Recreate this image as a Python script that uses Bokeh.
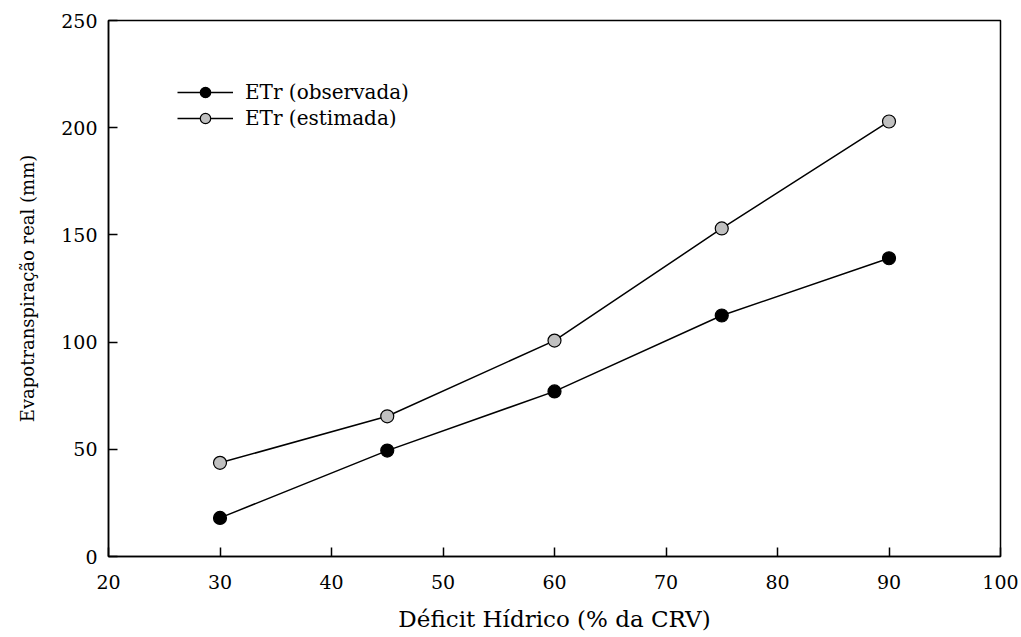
from bokeh.plotting import figure
from bokeh.models import Range1d, Legend, LegendItem, FixedTicker
from bokeh.embed import file_html
from bokeh.resources import INLINE

deficit = [30, 45, 60, 75, 90]
etr_observada = [18.0, 49.4, 77.0, 112.4, 139.1]
etr_estimada = [43.7, 65.4, 100.7, 153.0, 202.9]
x_ticks = [20, 30, 40, 50, 60, 70, 80, 90, 100]
y_ticks = [0, 50, 100, 150, 200, 250]

FONT = "DejaVu Serif"

p = figure(width=1021, height=637, output_backend="svg", toolbar_location=None,
           x_range=Range1d(20, 100), y_range=Range1d(0, 250),
           min_border_left=108, min_border_right=21, min_border_top=20, min_border_bottom=81)
p.border_fill_color = "white"
p.background_fill_color = "white"
p.grid.visible = False
p.outline_line_color = "black"
p.outline_line_width = 1.5

for ax in (p.xaxis, p.yaxis):
    ax.axis_line_width = 1.5
    ax.axis_line_color = "black"
    ax.major_tick_line_width = 1.5
    ax.major_tick_line_color = "black"
    ax.major_tick_in = 9
    ax.major_tick_out = 0
    ax.minor_tick_line_color = None
    ax.major_label_text_font = FONT
    ax.major_label_text_font_size = "19px"
    ax.major_label_text_color = "black"
    ax.axis_label_text_font = FONT
    ax.axis_label_text_font_style = "normal"
    ax.axis_label_text_color = "black"

p.xaxis.axis_label_text_font_size = "23px"
p.yaxis.axis_label_text_font_size = "18px"
p.xaxis.ticker = FixedTicker(ticks=x_ticks)
p.yaxis.ticker = FixedTicker(ticks=y_ticks)
p.xaxis.major_label_standoff = 18
p.yaxis.major_label_standoff = 11
p.xaxis.axis_label = "Déficit Hídrico (% da CRV)"
p.yaxis.axis_label = "Evapotranspiração real (mm)"
p.xaxis.axis_label_standoff = 14
p.yaxis.axis_label_standoff = 20

l1 = p.line(deficit, etr_observada, line_color="black", line_width=1.5)
s1 = p.scatter(deficit, etr_observada, size=13, fill_color="black", line_color="black", line_width=1.2)
l2 = p.line(deficit, etr_estimada, line_color="black", line_width=1.5)
s2 = p.scatter(deficit, etr_estimada, size=13, fill_color="#c0c0c0", line_color="black", line_width=1.2)

legend = Legend(items=[LegendItem(label="ETr (observada)", renderers=[l1, s1]),
                       LegendItem(label="ETr (estimada)", renderers=[l2, s2])],
                location=(69, 425), orientation="vertical")
legend.border_line_color = None
legend.background_fill_alpha = 0
legend.padding = 0
legend.margin = 0
legend.spacing = 0
legend.glyph_width = 56
legend.glyph_height = 26
legend.label_height = 26
legend.label_standoff = 12
legend.label_text_font = FONT
legend.label_text_font_size = "20px"
legend.label_text_color = "black"
p.add_layout(legend, "center")

open("out.html", "w").write(file_html(p, INLINE))
